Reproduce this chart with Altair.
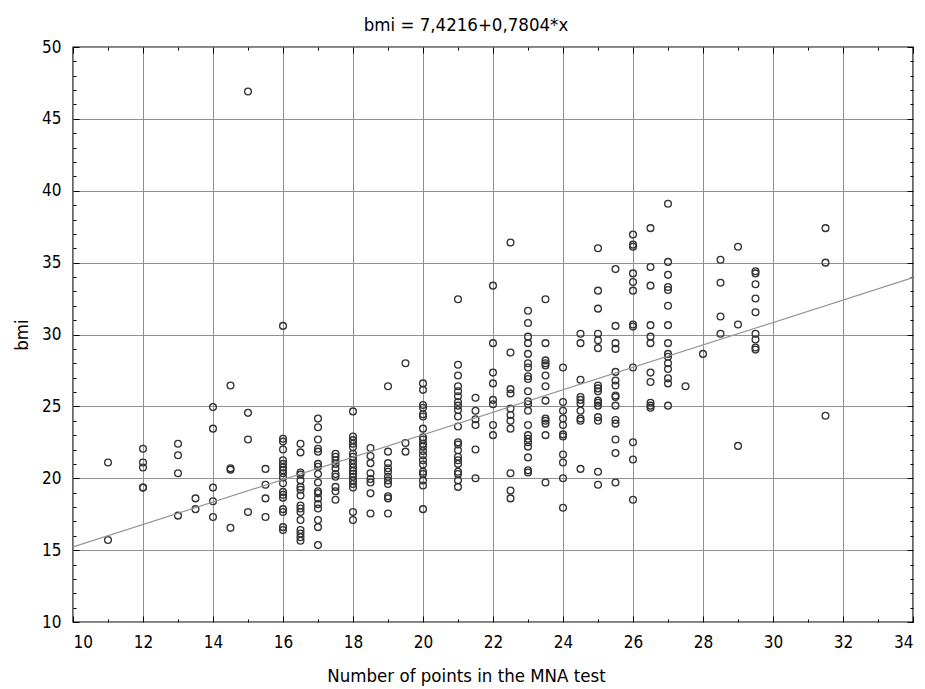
import altair as alt
import pandas as pd

# ---- data (MNA score -> BMI) ----
bmi_11 = [21.1, 15.7]
bmi_12 = [22.05, 21.1, 20.75, 19.35, 19.35]
bmi_13 = [22.4, 21.6, 20.35, 17.4]
bmi_13_5 = [18.6, 17.85]
bmi_14 = [24.95, 23.45, 19.35, 18.4, 17.3]
bmi_14_5 = [26.45, 20.7, 20.6, 16.55]
bmi_15 = [46.9, 24.55, 22.7, 17.65]
bmi_15_5 = [20.65, 19.55, 18.6, 17.3]
bmi_16 = [30.6, 22.75, 22.55, 22.0, 21.25, 21.0, 20.75, 20.55, 20.35, 20.05,
          19.65, 19.05, 18.85, 18.65, 17.85, 17.65, 16.6, 16.4]
bmi_16_5 = [22.4, 21.8, 20.4, 20.25, 19.85, 19.4, 19.2, 18.8, 18.1, 17.9,
            17.65, 17.1, 16.4, 16.15, 15.9, 15.65]
bmi_17 = [24.15, 23.55, 22.7, 22.05, 21.85, 21.0, 20.8, 20.3, 19.7, 19.1,
          18.95, 18.6, 18.2, 17.9, 17.1, 16.6, 15.35]
bmi_17_5 = [21.7, 21.5, 21.25, 21.0, 20.7, 20.3, 20.1, 19.4, 19.1, 18.5]
bmi_18 = [24.65, 22.9, 22.65, 22.4, 22.15, 21.7, 21.5, 21.25, 21.0, 20.75,
          20.5, 20.3, 20.1, 19.85, 19.6, 19.35, 17.65, 17.1]
bmi_18_5 = [22.1, 21.55, 21.05, 20.35, 19.95, 19.7, 18.95, 17.55]
bmi_19 = [26.4, 21.85, 21.05, 20.7, 20.45, 20.1, 19.85, 19.6, 18.75, 18.6, 17.55]
bmi_19_5 = [28.0, 22.45, 21.85]
bmi_20 = [26.6, 26.15, 25.1, 24.9, 24.45, 24.3, 23.45, 22.85, 22.7, 22.4,
          22.2, 21.9, 21.6, 21.25, 20.95, 20.45, 20.3, 19.85, 19.5, 17.85]
bmi_21 = [32.45, 27.9, 27.15, 26.4, 26.05, 25.7, 25.3, 25.05, 24.75, 24.3,
          23.6, 22.5, 22.35, 21.95, 21.5, 21.25, 21.0, 20.45, 20.3, 19.85, 19.4]
bmi_21_5 = [25.6, 24.7, 24.1, 23.7, 22.0, 20.0]
bmi_22 = [33.4, 29.4, 27.35, 26.6, 25.45, 25.15, 23.7, 23.0]
bmi_22_5 = [36.4, 28.75, 26.2, 25.9, 24.85, 24.4, 24.0, 23.45, 20.35, 19.15, 18.6]
bmi_23 = [31.65, 30.8, 29.85, 29.4, 28.65, 28.0, 27.7, 27.1, 26.9, 26.05,
          25.35, 25.15, 24.7, 23.7, 23.0, 22.75, 22.5, 22.2, 21.45, 20.55, 20.4]
bmi_23_5 = [32.45, 29.4, 28.2, 28.0, 27.85, 27.15, 26.4, 25.4, 24.15, 24.0,
            23.8, 23.0, 19.7]
bmi_24 = [27.7, 25.3, 24.7, 24.15, 23.7, 23.05, 22.9, 21.65, 21.1, 20.0, 17.95]
bmi_24_5 = [30.05, 29.4, 26.85, 25.65, 25.45, 25.2, 24.7, 24.15, 24.0, 20.65]
bmi_25 = [36.0, 33.05, 31.8, 30.05, 29.6, 29.05, 26.45, 26.25, 26.05, 25.4,
          25.25, 25.05, 24.25, 24.0, 20.45, 19.55]
bmi_25_5 = [34.55, 30.6, 29.4, 29.0, 27.4, 26.8, 26.45, 25.75, 25.65, 25.05,
            24.05, 23.8, 22.7, 21.75, 19.7]
bmi_26 = [36.95, 36.25, 36.1, 34.25, 33.65, 33.05, 30.7, 30.55, 27.7, 22.5, 21.3, 18.5]
bmi_26_5 = [37.4, 34.7, 33.4, 30.65, 29.85, 29.4, 27.35, 26.7, 25.25, 25.05, 24.9]
bmi_27 = [39.1, 35.05, 34.15, 33.3, 33.1, 32.0, 30.65, 29.4, 28.65, 28.45,
          28.0, 27.6, 26.95, 26.6, 25.05]
bmi_27_5 = [26.4]
bmi_28 = [28.65]
bmi_28_5 = [35.2, 33.6, 31.25, 30.05]
bmi_29 = [36.1, 30.7, 22.25]
bmi_29_5 = [34.4, 34.25, 33.5, 32.5, 31.55, 30.05, 29.65, 29.1, 28.95]
bmi_31_5 = [37.4, 35.0, 24.35]

columns = [
    (11, bmi_11), (12, bmi_12), (13, bmi_13), (13.5, bmi_13_5), (14, bmi_14),
    (14.5, bmi_14_5), (15, bmi_15), (15.5, bmi_15_5), (16, bmi_16),
    (16.5, bmi_16_5), (17, bmi_17), (17.5, bmi_17_5), (18, bmi_18),
    (18.5, bmi_18_5), (19, bmi_19), (19.5, bmi_19_5), (20, bmi_20),
    (21, bmi_21), (21.5, bmi_21_5), (22, bmi_22), (22.5, bmi_22_5),
    (23, bmi_23), (23.5, bmi_23_5), (24, bmi_24), (24.5, bmi_24_5),
    (25, bmi_25), (25.5, bmi_25_5), (26, bmi_26), (26.5, bmi_26_5),
    (27, bmi_27), (27.5, bmi_27_5), (28, bmi_28), (28.5, bmi_28_5),
    (29, bmi_29), (29.5, bmi_29_5), (31.5, bmi_31_5),
]

# regression from the chart title
INTERCEPT = 7.4216
SLOPE = 0.7804
line_x = [10, 34]

x_major = list(range(10, 35, 2))
x_minor = list(range(11, 34, 2))
y_major = list(range(10, 51, 5))
y_minor = [v for v in range(10, 51) if v % 5]

rows = [{"mna": x, "bmi": y} for x, ys in columns for y in ys]
df = pd.DataFrame(rows)
line_df = pd.DataFrame({"mna": line_x})

W, H = 840, 575
FONT = "Liberation Sans Narrow, DejaVu Sans Condensed, sans-serif"
GRID = "#8f8f8f"

xscale = alt.Scale(domain=[10, 34], nice=False, zero=False)
yscale = alt.Scale(domain=[10, 50], nice=False, zero=False)


def tick_axis(orient, values, size, offset):
    return alt.Axis(orient=orient, values=values, tickSize=size, offset=offset,
                    labels=False, domain=False, grid=False, title=None,
                    ticks=True, tickColor="black", tickWidth=1)


points = alt.Chart(df).mark_point(
    shape="circle", filled=False, size=46, stroke="#333333",
    strokeWidth=1.3, opacity=1
).encode(
    x=alt.X("mna:Q", scale=xscale,
            axis=alt.Axis(orient="bottom", values=x_major, grid=True,
                          gridColor=GRID, gridWidth=1, ticks=False,
                          domain=False, labelFont=FONT, labelFontSize=17,
                          labelColor="black", labelPadding=12,
                          title="Number of points in the MNA test",
                          titleFont=FONT, titleFontSize=18.5,
                          titleFontWeight="normal", titleColor="black",
                          titlePadding=16, titleX=393)),
    y=alt.Y("bmi:Q", scale=yscale,
            axis=alt.Axis(orient="left", values=y_major, grid=True,
                          gridColor=GRID, gridWidth=1, ticks=False,
                          domain=False, labelFont=FONT, labelFontSize=17,
                          labelColor="black", labelPadding=12,
                          title="bmi", titleFont=FONT, titleFontSize=18.5,
                          titleFontWeight="normal", titleColor="black",
                          titlePadding=10)),
)

base_line = alt.Chart(line_df).transform_calculate(
    fit=f"{INTERCEPT} + {SLOPE} * datum.mna"
)

reg = base_line.mark_line(color="#959595", strokeWidth=1.2, clip=True).encode(
    x=alt.X("mna:Q", scale=xscale, axis=tick_axis("top", x_major, 6, -H)),
    y=alt.Y("fit:Q", scale=yscale, axis=tick_axis("right", y_major, 6, -W)),
)

ticks_major2 = base_line.mark_line(strokeOpacity=0).encode(
    x=alt.X("mna:Q", scale=xscale, axis=tick_axis("bottom", x_major, 6, -H)),
    y=alt.Y("fit:Q", scale=yscale, axis=tick_axis("left", y_major, 6, -W)),
)

ticks_minor1 = base_line.mark_line(strokeOpacity=0).encode(
    x=alt.X("mna:Q", scale=xscale, axis=tick_axis("top", x_minor, 3, -H)),
    y=alt.Y("fit:Q", scale=yscale, axis=tick_axis("right", y_minor, 3, -W)),
)

ticks_minor2 = base_line.mark_line(strokeOpacity=0).encode(
    x=alt.X("mna:Q", scale=xscale, axis=tick_axis("bottom", x_minor, 3, -H)),
    y=alt.Y("fit:Q", scale=yscale, axis=tick_axis("left", y_minor, 3, -W)),
)

chart = alt.layer(points, reg, ticks_major2, ticks_minor1, ticks_minor2).resolve_axis(
    x="independent", y="independent"
).properties(
    width=W, height=H,
    title=alt.TitleParams("bmi = 7,4216+0,7804*x", font=FONT, fontSize=18.5,
                          fontWeight="normal", color="black", offset=4,
                          anchor="middle", dx=-27),
    padding={"left": 65, "top": 39, "right": 4, "bottom": 64},
    autosize=alt.AutoSizeParams(type="none"),
).configure_view(stroke="black", strokeWidth=1.4)

chart.save("out.html", embed_options={"renderer": "svg", "actions": False})
